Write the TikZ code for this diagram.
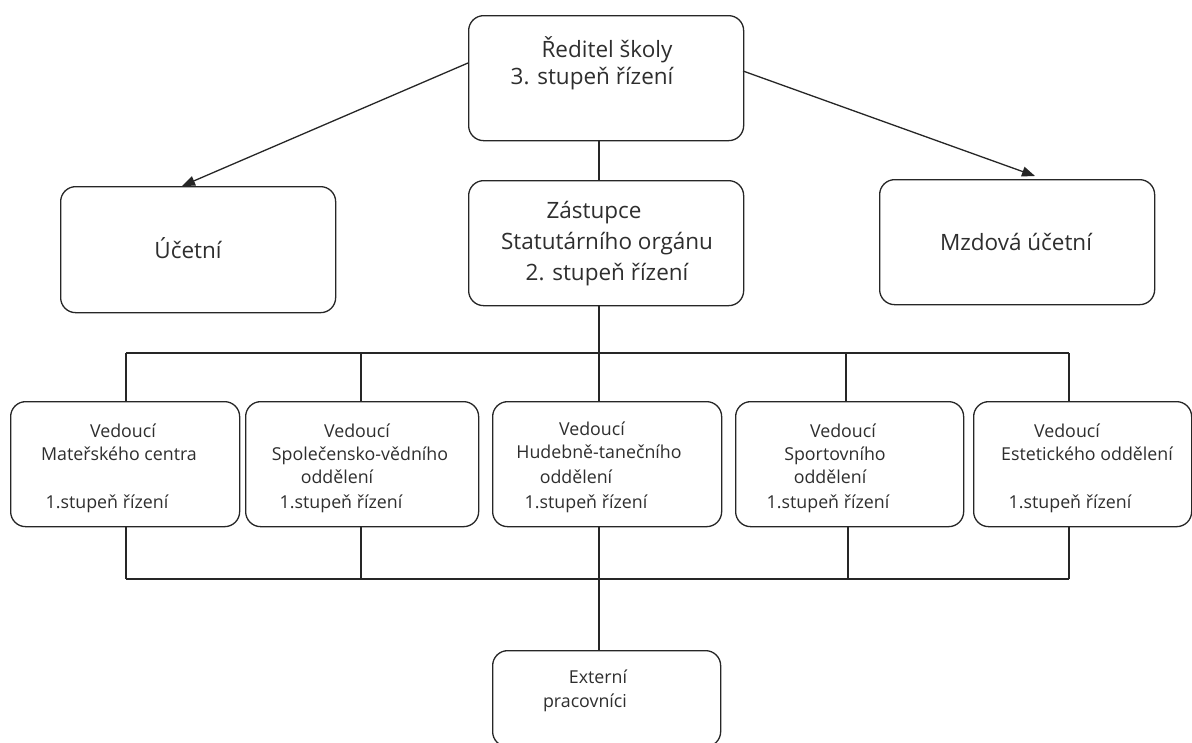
\documentclass[tikz,border=0pt]{standalone}
\usepackage{fontspec}
\setmainfont{Open Sans}
\usetikzlibrary{arrows.meta}
\definecolor{ink}{HTML}{262626}
\definecolor{txtc}{HTML}{2E2E2E}
\tikzset{
  boxnode/.style={draw=ink, line width=1.3pt, rounded corners=15pt, inner sep=0pt, anchor=north west},
  conn/.style={draw=ink, line width=1.3pt},
  arr/.style={conn, -{Triangle[length=13pt,width=10pt]}},
  big/.style={text=txtc, inner sep=0pt, anchor=base, font=\fontsize{22.5}{27}\selectfont},
  small/.style={text=txtc, inner sep=0pt, anchor=base, font=\fontsize{17.8}{21}\selectfont},
}
\begin{document}
\begin{tikzpicture}[x=1pt,y=-1pt]
\useasboundingbox[fill=white] (0,0) rectangle (1192,742);
% boxes
\node[boxnode, minimum width=275pt, minimum height=125pt] (dir) at (468,15) {};
\node[boxnode, minimum width=275pt, minimum height=125pt] (zast) at (468,180) {};
\node[boxnode, minimum width=275pt, minimum height=126pt] (ucet) at (60,186) {};
\node[boxnode, minimum width=275pt, minimum height=125pt] (mzd) at (879,179) {};
\node[boxnode, minimum width=229pt, minimum height=125pt] (b1) at (10,401) {};
\node[boxnode, minimum width=233pt, minimum height=125pt] (b2) at (245,401) {};
\node[boxnode, minimum width=229pt, minimum height=125pt] (b3) at (492,401) {};
\node[boxnode, minimum width=228pt, minimum height=125pt] (b4) at (735,401) {};
\node[boxnode, minimum width=218pt, minimum height=125pt] (b5) at (973,401) {};
\node[boxnode, minimum width=228pt, minimum height=96pt] (ext) at (492,650) {};
% texts
\node[big] (dir1) at (607,57) {Ředitel školy};
\node[big] (dir2) at (592,84) {3. stupeň řízení};
\node[big] (zas1) at (594,218) {Zástupce};
\node[big] (zas2) at (607,249) {Statutárního orgánu};
\node[big] (zas3) at (607,280) {2. stupeň řízení};
\node[big] (uct1) at (188,258) {Účetní};
\node[big] (mzd1) at (1016,250) {Mzdová účetní};
\node[small] (b1a) at (123,437) {Vedoucí};
\node[small] (b1b) at (119,460) {Mateřského centra};
\node[small] (b1c) at (107,508) {1.stupeň řízení};
\node[small] (b2a) at (357,437) {Vedoucí};
\node[small] (b2b) at (360,460) {Společensko-vědního};
\node[small] (b2c) at (337,483) {oddělení};
\node[small] (b2d) at (341,508) {1.stupeň řízení};
\node[small] (b3a) at (592,435) {Vedoucí};
\node[small] (b3b) at (599,458) {Hudebně-tanečního};
\node[small] (b3c) at (576,483) {oddělení};
\node[small] (b3d) at (586,508) {1.stupeň řízení};
\node[small] (b4a) at (843,437) {Vedoucí};
\node[small] (b4b) at (835,460) {Sportovního};
\node[small] (b4c) at (830,483) {oddělení};
\node[small] (b4d) at (828,508) {1.stupeň řízení};
\node[small] (b5a) at (1067,437) {Vedoucí};
\node[small] (b5b) at (1087,460) {Estetického oddělení};
\node[small] (b5c) at (1070,508) {1.stupeň řízení};
\node[small] (ext1) at (598,683) {Externí};
\node[small] (ext2) at (585,707) {pracovníci};
% bus coordinates
\coordinate (x1) at (126,353);
\coordinate (x2) at (361,353);
\coordinate (x3) at (599,353);
\coordinate (x4) at (846,353);
\coordinate (x5) at (1069,353);
\coordinate (y1) at (126,579);
\coordinate (y2) at (361,579);
\coordinate (y3) at (599,579);
\coordinate (y4) at (848,579);
\coordinate (y5) at (1069,579);
\coordinate (ua) at (468,63);
\coordinate (ub) at (182,186);
\coordinate (ma) at (743,71);
\coordinate (mb) at (1035,176);
% connectors
\draw[arr] (ua) -- (ub);
\draw[arr] (ma) -- (mb);
\draw[conn] (dir.south -| x3) -- (zast.north -| x3);
\draw[conn] (zast.south -| x3) -- (x3);
\draw[conn] (x1) -- (x5);
\draw[conn] (x1) -- (b1.north -| x1);
\draw[conn] (x2) -- (b2.north -| x2);
\draw[conn] (x3) -- (b3.north -| x3);
\draw[conn] (x4) -- (b4.north -| x4);
\draw[conn] (x5) -- (b5.north -| x5);
\draw[conn] (y1) -- (y5);
\draw[conn] (b1.south -| y1) -- (y1);
\draw[conn] (b2.south -| y2) -- (y2);
\draw[conn] (b3.south -| y3) -- (y3);
\draw[conn] (b4.south -| y4) -- (y4);
\draw[conn] (b5.south -| y5) -- (y5);
\draw[conn] (y3) -- (ext.north -| y3);
\end{tikzpicture}
\end{document}
